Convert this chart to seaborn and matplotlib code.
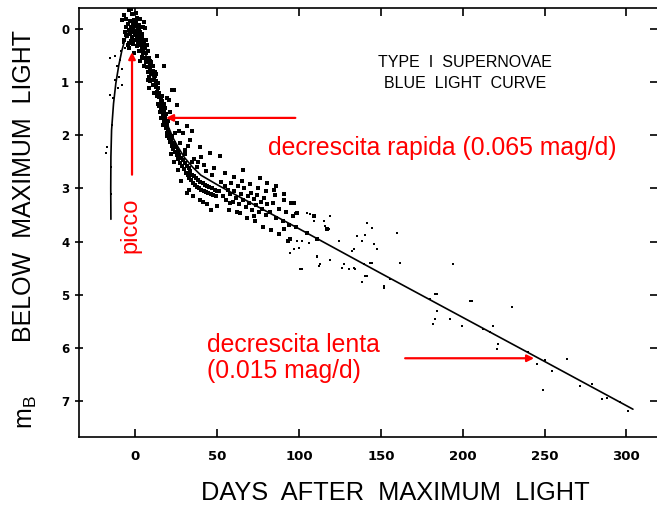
import matplotlib
matplotlib.use("Agg")
import matplotlib.pyplot as plt
import seaborn as sns
import pandas as pd

# ---------------- data ----------------
x_ticks = [0, 50, 100, 150, 200, 250, 300]
y_ticks = [0, 1, 2, 3, 4, 5, 6, 7]

# template light curve (days after max, mag below max)
curve_day = [-15.0, -15.1, -15.0, -14.6, -13.4, -12.0, -10.2, -8.3, -6.3, -4.2, -2.0,
             0.0, 3.0, 6.0, 9.0, 12.0, 15.0, 18.0, 20.0, 23.0, 26.0, 30.0, 35.0, 40.0,
             50.0, 60.0, 80.0, 100.0, 150.0, 200.0, 250.0, 304.0]
curve_mag = [3.58, 3.00, 2.40, 1.90, 1.40, 1.02, 0.68, 0.40, 0.18, 0.05, 0.00,
             0.00, 0.15, 0.45, 0.75, 1.02, 1.32, 1.60, 1.83, 2.05, 2.22, 2.42, 2.60, 2.75,
             2.93, 3.10, 3.43, 3.76, 4.60, 5.43, 6.26, 7.16]

# observations around the peak
peak_day = [-6.5, -5.8, -5.0, -4.6, -4.0, -3.5, -3.1, -2.6, -2.2, -1.8,
            -1.3, -0.9, -0.5, -0.1, 0.3, 0.6, 1.0, 1.4, 1.8, 2.2,
            2.6, 3.0, 3.3, 3.7, 4.1, 4.4, 4.8, 5.2, 5.5, 5.9,
            6.2, 6.6, 7.0, 7.3, 7.7, 8.0, 8.4, 8.7, 9.1, 9.5,
            -4.8, -3.8, -1.5, 0.8, 2.0, -2.8, 1.6, -0.4, 3.8, 5.0,
            -7.2, -6.0, -2.0, 0.2, 2.8, 4.6, 6.2, -8.1, -7.1, -3.0,
            1.0, 5.1, 6.1, -4.1, -2.0, -1.0, 3.0, 7.8, 9.0, 10.0,
            -3.7, -1.2, 0.5, 2.4, 4.0, -5.5, -0.8, 1.2, 3.5, 6.8]
peak_mag = [0.05, -0.05, 0.12, -0.10, 0.02, -0.15, 0.08, -0.05, 0.15, -0.12,
            0.02, -0.18, 0.10, -0.06, 0.05, -0.14, 0.18, -0.02, 0.10, -0.08,
            0.22, 0.05, 0.30, 0.12, 0.38, 0.20, 0.45, 0.28, 0.55, 0.36,
            0.62, 0.45, 0.72, 0.55, 0.80, 0.62, 0.90, 0.75, 0.98, 0.85,
            0.30, 0.35, 0.28, 0.32, 0.40, 0.22, 0.25, 0.20, 0.52, 0.70,
            0.20, -0.20, -0.28, -0.30, -0.20, -0.05, 0.20, -0.17, -0.27, -0.38,
            -0.22, -0.14, -0.02, 0.26, 0.55, 0.45, 0.60, 0.40, 0.60, 0.80,
            -0.37, -0.08, -0.10, 0.00, 0.08, 0.10, 0.05, 0.12, 0.18, 0.30]

# rising branch and its outliers
rise_day = [-12.2, -15.3, -9.2, -8.1, -10.2, -15.3, -17.3, -18.3, -12.2, -4.1,
            -13.5, -11.0, -9.0, -7.5, -14.5, -14.8, -15.0, -10.5, -6.5, -8.5]
rise_mag = [0.51, 0.55, 0.58, 1.05, 0.89, 1.23, 2.21, 2.33, 0.95, 0.26,
            1.30, 0.70, 0.40, 0.25, 1.80, 2.60, 3.10, 1.10, 0.35, 0.75]

# fast decline
fast_day = [8.5, 9.2, 9.8, 10.3, 10.9, 11.4, 11.8, 12.3, 12.8, 13.2,
            13.7, 14.1, 14.6, 15.0, 15.5, 15.9, 16.3, 16.8, 17.2, 17.7,
            18.1, 18.6, 19.0, 19.5, 19.9, 20.4, 20.8, 21.3, 21.7, 22.2,
            10.5, 11.0, 12.0, 13.0, 14.0, 15.2, 16.0, 17.0, 18.0, 19.2,
            9.0, 11.6, 13.5, 15.8, 17.5, 12.5, 14.5, 16.5, 18.5, 20.0,
            7.5, 8.0, 22.4, 20.4, 23.4, 25.4, 17.3, 13.2, 21.0, 19.0]
fast_mag = [0.55, 0.68, 0.62, 0.85, 0.78, 0.95, 0.88, 1.08, 0.98, 1.18,
            1.10, 1.28, 1.20, 1.40, 1.33, 1.52, 1.45, 1.62, 1.55, 1.75,
            1.68, 1.86, 1.78, 1.95, 1.90, 2.05, 1.98, 2.12, 2.06, 2.20,
            0.70, 1.05, 0.80, 1.25, 1.02, 1.55, 1.25, 1.80, 1.48, 2.02,
            0.95, 1.20, 1.40, 1.68, 1.40, 0.85, 1.45, 1.35, 1.60, 1.72,
            0.95, 1.10, 1.14, 1.33, 1.14, 1.42, 0.70, 0.51, 1.55, 1.30]

# knee of the curve
knee_day = [22.5, 23.0, 23.6, 24.1, 24.7, 25.2, 25.8, 26.3, 26.9, 27.4,
            28.0, 28.5, 29.1, 29.6, 30.2, 30.8, 31.3, 31.9, 32.5, 33.0,
            33.6, 34.2, 34.8, 35.4, 36.0, 36.6, 37.2, 37.8, 38.4, 39.0,
            39.7, 40.3, 41.0, 41.7, 42.4, 43.1, 43.8, 44.5, 45.2, 46.0,
            46.8, 47.6, 48.4, 49.2, 50.0, 24.0, 27.0, 30.0, 33.6, 39.7,
            45.8, 51.9, 36.0, 42.0, 48.0, 31.6, 39.7, 49.9, 35.0, 44.0,
            28.0, 33.0, 41.0, 46.0, 26.0, 38.0, 43.0, 30.5, 34.5, 37.5,
            29.0, 31.6, 34.6, 25.4, 26.5, 32.0, 40.0, 47.0, 22.0, 23.5]
knee_mag = [2.02, 2.25, 2.14, 2.32, 2.22, 2.36, 2.30, 2.45, 2.36, 2.52,
            2.42, 2.58, 2.47, 2.63, 2.52, 2.70, 2.58, 2.75, 2.62, 2.80,
            2.68, 2.84, 2.74, 2.90, 2.77, 2.93, 2.81, 2.97, 2.84, 3.00,
            2.87, 3.02, 2.90, 3.05, 2.93, 3.07, 2.95, 3.09, 2.98, 3.11,
            3.00, 3.13, 3.02, 3.15, 3.04, 1.95, 2.15, 2.28, 2.08, 2.21,
            2.33, 2.39, 2.45, 2.55, 2.62, 3.08, 3.21, 3.33, 3.15, 3.30,
            2.85, 3.02, 3.25, 3.40, 2.65, 2.50, 2.68, 2.35, 2.50, 2.60,
            1.95, 1.83, 1.92, 1.77, 1.92, 2.20, 2.40, 2.75, 2.35, 2.50]

# slow decline, 50-100 days
tail_day = [51.0, 52.5, 53.5, 54.5, 55.5, 56.5, 57.5, 58.5, 59.5, 60.5,
            61.5, 62.5, 63.5, 64.5, 65.5, 66.5, 67.5, 68.5, 69.5, 70.5,
            71.5, 72.5, 73.5, 74.5, 75.5, 76.5, 77.5, 78.5, 79.5, 80.5,
            82.0, 84.0, 86.0, 88.0, 90.0, 92.0, 94.0, 96.0, 98.0, 55.0,
            60.0, 65.0, 70.0, 75.0, 80.0, 85.0, 62.0, 68.0, 73.0, 78.0,
            83.0, 88.0, 57.0, 66.0, 76.0, 86.0, 91.0, 95.0, 99.0, 93.0,
            80.4, 90.5, 96.6, 108.9, 104.8, 94.6, 110.9, 117.0, 90.5, 72.2,
            64.1, 58.0, 84.4]
tail_mag = [3.05, 2.88, 3.15, 2.96, 3.22, 3.02, 3.10, 2.90, 3.25, 3.05,
            3.18, 2.95, 3.30, 3.10, 3.22, 3.00, 3.35, 3.15, 3.28, 3.08,
            3.40, 3.20, 3.32, 3.12, 3.45, 3.26, 3.38, 3.18, 3.50, 3.30,
            3.45, 3.28, 3.55, 3.38, 3.62, 3.45, 3.68, 3.52, 3.72, 2.70,
            2.78, 2.85, 2.92, 3.00, 3.05, 3.12, 3.45, 3.55, 3.62, 3.72,
            3.78, 3.85, 3.40, 2.65, 2.80, 2.95, 3.10, 3.27, 3.46, 3.99,
            2.90, 3.21, 3.27, 3.52, 3.84, 3.96, 3.96, 3.77, 3.77, 3.52,
            3.46, 3.27, 3.02]

# late, sparse observations
late_day = [95.7, 97.7, 104.8, 106.8, 108.9, 115.0, 116.0, 118.0, 119.0, 98.7,
            101.8, 105.8, 96.7, 99.8, 110.9, 119.0, 124.1, 101.8, 112.0, 126.2,
            130.2, 134.3, 133.3, 135.5, 138.4, 140.4, 141.5, 144.5, 145.5, 147.6,
            144.5, 138.4, 141.5, 159.6, 161.8, 151.6, 155.7, 194.3, 205.5, 184.2,
            132.3, 127.2, 133.3, 139.4, 140.4, 143.5, 151.6, 180.1, 184.2, 183.2,
            182.1, 192.3, 199.4, 204.5, 183.2, 230.0, 212.6, 216.7, 218.7, 221.8,
            220.8, 240.1, 245.2, 249.3, 254.4, 264.0, 271.7, 278.8, 284.9, 287.9,
            301.2, 296.1, 250.3, 94.6, 110.9, 100.7, 113.0]
late_mag = [3.27, 3.46, 3.46, 3.49, 3.62, 3.62, 3.71, 3.77, 3.52, 3.99,
            3.99, 4.02, 4.15, 4.12, 4.30, 4.34, 3.99, 4.52, 4.46, 4.49,
            4.52, 4.52, 4.15, 3.90, 3.99, 3.87, 3.65, 3.74, 4.05, 4.15,
            4.40, 4.77, 4.65, 3.84, 4.40, 4.87, 4.71, 4.43, 5.12, 4.99,
            4.18, 4.43, 4.49, 4.43, 4.65, 4.40, 4.84, 5.09, 5.31, 5.46,
            5.56, 5.46, 5.60, 5.13, 4.99, 5.24, 5.65, 5.71, 5.60, 5.93,
            6.03, 6.09, 6.31, 6.79, 6.44, 6.22, 6.72, 6.69, 6.97, 6.94,
            7.19, 7.03, 6.23, 4.21, 4.27, 4.52, 4.43]

dense = pd.DataFrame({
    "day": peak_day + fast_day + knee_day,
    "mag": peak_mag + fast_mag + knee_mag,
})
medium = pd.DataFrame({"day": tail_day, "mag": tail_mag})
sparse = pd.DataFrame({
    "day": rise_day + late_day,
    "mag": rise_mag + late_mag,
})
curve = pd.DataFrame({"day": curve_day, "mag": curve_mag})

# ---------------- figure ----------------
sns.set_style("ticks")
plt.rcParams["font.family"] = ["Liberation Sans", "DejaVu Sans"]
plt.rcParams["text.color"] = "black"
plt.rcParams["xtick.color"] = "black"
plt.rcParams["ytick.color"] = "black"
plt.rcParams["axes.edgecolor"] = "black"

W, H = 657, 509
fig = plt.figure(figsize=(W / 100, H / 100), dpi=100)
ax = fig.add_axes([79 / W, 1 - 437 / H, (W - 79) / W, (437 - 7.7) / H])

sns.scatterplot(data=dense, x="day", y="mag", ax=ax, color="black", marker="s",
                s=10, linewidth=0, legend=False)
sns.scatterplot(data=medium, x="day", y="mag", ax=ax, color="black", marker="s",
                s=6, linewidth=0, legend=False)
sns.scatterplot(data=sparse, x="day", y="mag", ax=ax, color="black", marker="s",
                s=3.5, linewidth=0, legend=False)
sns.lineplot(data=curve, x="day", y="mag", ax=ax, sort=False, estimator=None,
             color="black", linewidth=1.2, legend=False)

ax.set_xlim(-34.5, 318.7)
ax.set_ylim(7.684, -0.407)
ax.set_xlabel("")
ax.set_ylabel("")

ax.set_xticks(x_ticks)
ax.set_xticklabels([str(v) for v in x_ticks], fontfamily="DejaVu Sans",
                   fontweight="bold", fontsize=9.5)
ax.set_yticks(y_ticks)
ax.set_yticklabels([str(v) for v in y_ticks], fontfamily="DejaVu Sans",
                   fontweight="bold", fontsize=8.5)
ax.tick_params(axis="x", direction="in", length=6, width=1.2, top=True,
               labeltop=False, pad=9)
ax.tick_params(axis="y", direction="inout", length=6, width=1.2, pad=4)

sec = ax.secondary_yaxis("right")
sec.set_yticks(y_ticks)
sec.tick_params(direction="in", length=5, width=1.2, labelright=False)
sec.spines["right"].set_visible(False)

for side in ["left", "bottom", "top"]:
    ax.spines[side].set_linewidth(1.2)
    ax.spines[side].set_color("black")
ax.spines["right"].set_visible(False)

# title block
ax.text(201.5, 0.63, "TYPE  I  SUPERNOVAE", ha="center", va="center", fontsize=11.5)
ax.text(201.5, 1.03, "BLUE  LIGHT  CURVE", ha="center", va="center", fontsize=11.5)

# axis labels
fig.text(395 / W, 1 - 493 / H, "DAYS  AFTER  MAXIMUM  LIGHT", ha="center",
         va="center", fontsize=18.3)
fig.text(24 / W, 1 - 185.5 / H, "BELOW  MAXIMUM  LIGHT", ha="center",
         va="center", rotation=90, fontsize=18)
fig.text(27 / W, 1 - 412 / H, r"m$_\mathregular{B}$", ha="center",
         va="center", rotation=90, fontsize=18)

# red annotations
red = "#ff0000"
ax.annotate("", xy=(-2.1, 0.43), xytext=(-2.1, 2.74),
            arrowprops=dict(arrowstyle="-|>", color=red, lw=1.6, mutation_scale=10,
                            shrinkA=0, shrinkB=0))
ax.text(-3.1, 3.70, "picco", color=red, rotation=90, ha="center", va="center",
        fontsize=17)
ax.annotate("", xy=(18.7, 1.67), xytext=(97.7, 1.67),
            arrowprops=dict(arrowstyle="-|>", color=red, lw=1.6, mutation_scale=10,
                            shrinkA=0, shrinkB=0))
ax.text(81.2, 2.36, "decrescita rapida (0.065 mag/d)", color=red, ha="left",
        va="baseline", fontsize=17.8)
ax.annotate("", xy=(243.6, 6.20), xytext=(164.8, 6.20),
            arrowprops=dict(arrowstyle="-|>", color=red, lw=1.6, mutation_scale=10,
                            shrinkA=0, shrinkB=0))
ax.text(44.0, 6.08, "decrescita lenta", color=red, ha="left", va="baseline",
        fontsize=17.8)
ax.text(44.0, 6.57, "(0.015 mag/d)", color=red, ha="left", va="baseline",
        fontsize=17.8)

fig.savefig("out.png", dpi=100)
